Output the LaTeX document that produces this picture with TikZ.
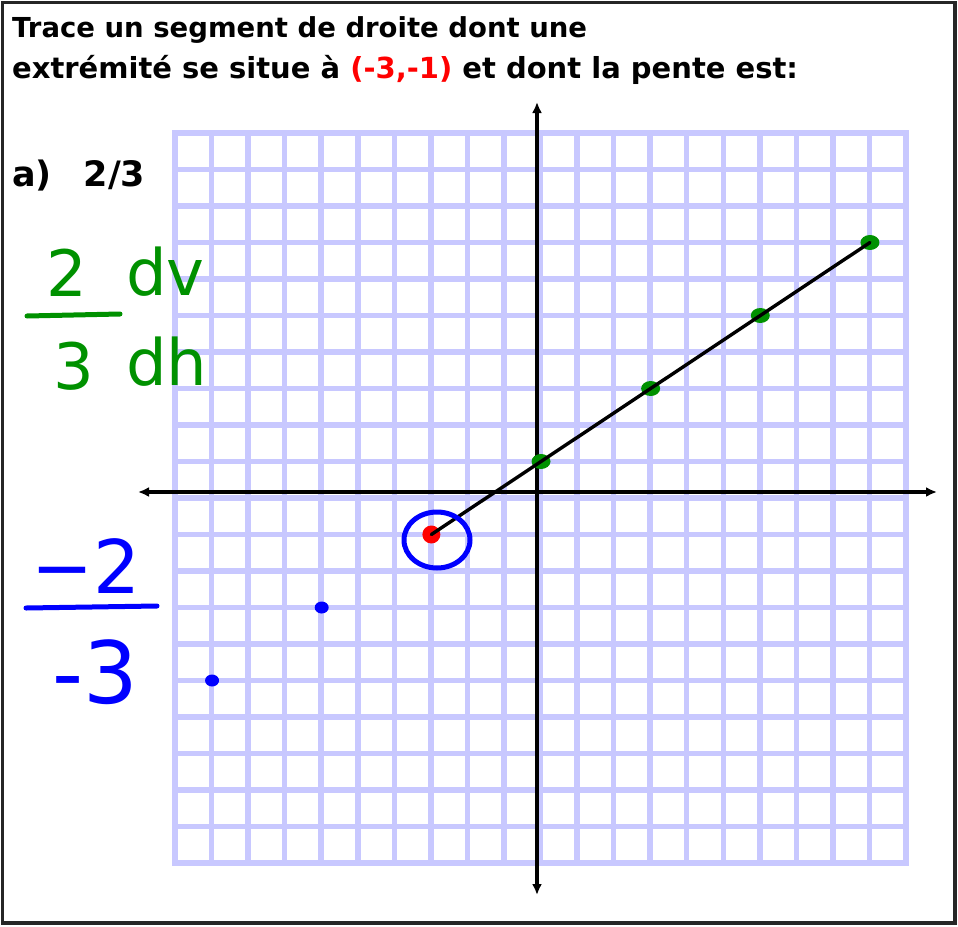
\documentclass[tikz,border=0pt]{standalone}
\usepackage{fontspec}
\setmainfont{DejaVu Sans}
\newfontfamily\handfont{DejaVu Sans}
\usetikzlibrary{arrows.meta,positioning,shapes.geometric}
\definecolor{gridblue}{RGB}{200,200,255}
\definecolor{penred}{RGB}{255,0,0}
\definecolor{pengreen}{RGB}{0,145,0}
\definecolor{penblue}{RGB}{0,0,255}

\begin{document}
\begin{tikzpicture}[
  	x=1pt,
  	y=-1pt,
  	title/.style={anchor=base west,inner sep=0pt,font=\fontsize{27.5}{28}\selectfont\bfseries},
  	question/.style={anchor=base west,inner sep=0pt,font=\fontsize{35}{35}\selectfont\bfseries},
  	gridline/.style={draw=gridblue,line width=5.5pt,line cap=rect},
  	axisline/.style={draw=black,line width=3.2pt,{Latex[length=11pt,width=10pt]}-{Latex[length=11pt,width=10pt]}},
  	segline/.style={draw=black,line width=3.4pt,line cap=round},
  	greendot/.style={ellipse,fill=pengreen,minimum width=19pt,minimum height=15pt,inner sep=0pt},
  	bluedot/.style={ellipse,fill=penblue,minimum width=14pt,minimum height=12pt,inner sep=0pt},
  	reddot/.style={circle,fill=penred,minimum size=18pt,inner sep=0pt},
  	handgreen/.style={inner sep=0pt,text=pengreen,font=\handfont\fontsize{64}{64}\selectfont},
  	handblue/.style={inner sep=0pt,text=penblue,font=\handfont\fontsize{74}{74}\selectfont},
  	penbar/.style={line width=5pt,line cap=round}
  	]
  	\useasboundingbox (0,0) rectangle (958,926);
  	\draw[draw=black!85,line width=3.5pt] (2.5,2.5) rectangle (955,923);
  	
  	% Statement
  	\node[title] (line1) at (12,37) {Trace un segment de droite dont une};
  	\node[title,font=\fontsize{29}{29}\selectfont\bfseries] (line2) at (12,78) {extrémité se situe à \textcolor{penred}{(-3,-1)} et dont la pente est:};
  	\node[question] (parta) at (12,186) {a)\hspace{32pt}2/3};
  	
  	% Grid paper
  	\foreach \i in {0,...,20} {
  		\draw[gridline] ({175+36.55*\i},133) -- ({175+36.55*\i},863);
  		\draw[gridline] (175,{133+36.5*\i}) -- (906,{133+36.5*\i});
  	}
  	
  	% Axes
  	\coordinate (xleft) at (138,492);
  	\coordinate (xright) at (937,492);
  	\coordinate (ytop) at (537,102);
  	\coordinate (ybottom) at (537,895);
  	\draw[axisline] (xleft) -- (xright);
  	\draw[axisline] (ybottom) -- (ytop);
  	
  	% Points in grid units
  	\begin{scope}[shift={(541,498)},x=36.55pt,y=36.5pt]
  		\node[reddot] (start) at (-3,-1) {};
  		\node[greendot] (p0) at (0,1) {};
  		\node[greendot] (p1) at (3,3) {};
  		\node[greendot] (p2) at (6,5) {};
  		\node[greendot] (p3) at (9,7) {};
  		\node[bluedot] (q1) at (-6,-3) {};
  		\node[bluedot] (q2) at (-9,-5) {};
  		\draw[segline] (start.center) -- (p3.center);
  	\end{scope}
  	\draw[penblue,line width=5pt] (437,540) ellipse [x radius=33pt,y radius=28pt];
  	
  	% Slope written in green
  	\node[handgreen] (rise) at (67,273) {2};
  	\node[handgreen] (run) at (74,366) {3};
  	\node[handgreen,anchor=base west] (dv) at (126,295) {dv};
  	\node[handgreen,anchor=base west] (dh) at (126,385) {dh};
  	\draw[penbar,pengreen] (27,316) -- (120,314);
  	
  	% Slope written in blue
  	\node[handblue] (negrise) at (86,566) {−2};
  	\node[handblue,font=\handfont\fontsize{86}{86}\selectfont] (negrun) at (95,672) {-3};
  	\draw[penbar,penblue] (26,608) -- (157,606);
\end{tikzpicture}
\end{document}
